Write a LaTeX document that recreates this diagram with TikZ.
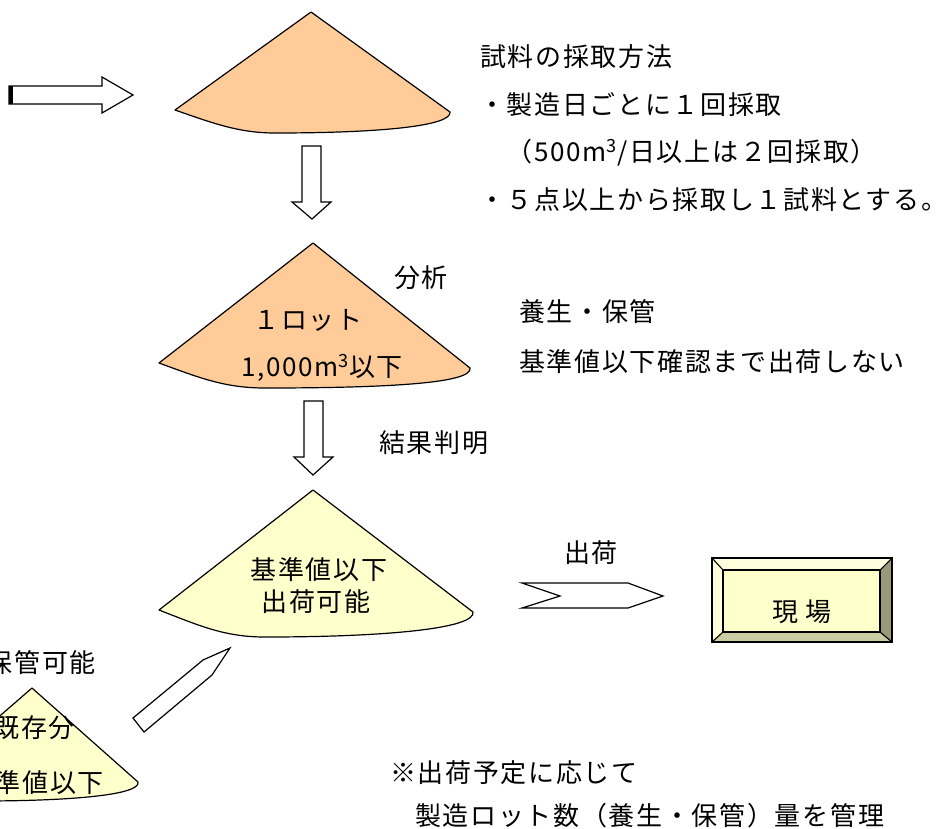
\documentclass[tikz,border=0pt]{standalone}
\usepackage{fontspec}
\setmainfont{Noto Sans CJK JP}[LetterSpace=6.5]
\definecolor{pileorange}{HTML}{FFCC99}
\definecolor{pileyellow}{HTML}{FFFFCC}
\definecolor{bevtop}{HTML}{FFFFE0}
\definecolor{bevleft}{HTML}{FFFFD9}
\definecolor{bevright}{HTML}{99997A}
\definecolor{bevbottom}{HTML}{CCCCA3}
\tikzset{
  shp/.style={draw=black, line width=1.2pt, line join=round},
  orangepile/.style={shp, fill=pileorange},
  yellowpile/.style={shp, fill=pileyellow},
  hollow/.style={draw=black, line width=1.2pt, line join=miter, fill=white},
  bevline/.style={draw=black, line width=1.1pt},
  lbl/.style={inner sep=0pt, outer sep=0pt, text=black, font=\fontsize{26}{30}\selectfont},
}
\begin{document}
\begin{tikzpicture}[x=1pt, y=-1pt]
\useasboundingbox (0,0) rectangle (941,828);
\clip (0,0) rectangle (941,828);

% ---- incoming arrow (top left)
\draw[hollow] (9,86) -- (102,86) -- (102,77) -- (133,95) -- (102,113) -- (102,104) -- (9,104) -- cycle;
\draw[line width=4pt] (11,86) -- (11,104);

% ---- pile 1 (sampling)
\path[orangepile] (311,12) -- (450,112) .. controls (452,126) and (380,133) .. (275,133)
   .. controls (240,133) and (215,124) .. (175,110) -- cycle;

% ---- down arrow 1
\draw[hollow] (302,146) -- (321,146) -- (321,202) -- (331,202) -- (312,219) -- (292,202) -- (302,202) -- cycle;

% ---- pile 2 (1 lot)
\path[orangepile] (313,243) -- (470,368) .. controls (473,383) and (390,388) .. (265,388)
   .. controls (225,388) and (200,378) .. (159,363) -- cycle;

% ---- down arrow 2
\draw[hollow] (304,401) -- (323,401) -- (323,457) -- (333,457) -- (313,475) -- (294,457) -- (304,457) -- cycle;

% ---- pile 3 (below standard)
\path[yellowpile] (313,490) -- (473,612) .. controls (476,628) and (390,637) .. (265,637)
   .. controls (225,637) and (200,626) .. (159,610) -- cycle;

% ---- pile 4 (existing, bottom left, partly cut)
\path[yellowpile] (32,688) -- (138,782) .. controls (141,795) and (70,801) .. (-20,801)
   .. controls (-45,801) and (-60,792) .. (-74,780) -- cycle;

% ---- diagonal arrow from pile 4 to pile 3
\draw[hollow] (133,718) -- (203,660) -- (230,648) -- (212,675) -- (144,732) -- cycle;

% ---- shipping chevron
\draw[hollow] (522,583) -- (628,583) -- (663,596) -- (628,608) -- (522,608) -- (560,596) -- cycle;

% ---- bevelled box
\fill[pileyellow] (723,570) rectangle (880,632);
\fill[bevtop] (712,558) -- (892,558) -- (880,570) -- (723,570) -- cycle;
\fill[bevleft] (712,558) -- (723,570) -- (723,632) -- (712,642) -- cycle;
\fill[bevright] (892,558) -- (892,642) -- (880,632) -- (880,570) -- cycle;
\fill[bevbottom] (712,642) -- (892,642) -- (880,632) -- (723,632) -- cycle;
\draw[bevline] (723,570) rectangle (880,632);
\draw[bevline] (712,558) -- (723,570) (892,558) -- (880,570) (712,642) -- (723,632) (892,642) -- (880,632);
\draw[line width=1.6pt] (712,558) rectangle (892,642);

% ---- texts
\node[lbl, anchor=west] (t1) at (480,57) {試料の採取方法};
\node[lbl, anchor=west] (t2) at (479,105) {・製造日ごとに１回採取};
\node[lbl, anchor=west] (t3) at (479,153) {　（500m\textsuperscript{3}/日以上は２回採取）};
\node[lbl, anchor=west] (t4) at (479,200) {・５点以上から採取し１試料とする。};
\node[lbl, anchor=west] (t5) at (394,278) {分析};
\node[lbl, anchor=west] (t6) at (519,312) {養生・保管};
\node[lbl, anchor=west] (t7) at (519,362) {基準値以下確認まで出荷しない};
\node[lbl, anchor=west] (t8) at (379,443) {結果判明};
\node[lbl, anchor=west] (t9) at (564,553) {出荷};
\node[lbl] (t10) at (308,320) {１ロット};
\node[lbl] (t11) at (322,368) {1,000m\textsuperscript{3}以下};
\node[lbl] (t12) at (319,570) {基準値以下};
\node[lbl] (t13) at (316,602) {出荷可能};
\node[lbl] (t14) at (802,612) {現 場};
\node[lbl, anchor=east] (t15) at (96,663) {保管可能};
\node[lbl, anchor=east] (t16) at (75,728) {既存分};
\node[lbl, anchor=east] (t17) at (104,783) {基準値以下};
\node[lbl, anchor=west] (t18) at (390,773) {※出荷予定に応じて};
\node[lbl, anchor=west] (t19) at (415,816) {製造ロット数（養生・保管）量を管理};
\end{tikzpicture}
\end{document}
